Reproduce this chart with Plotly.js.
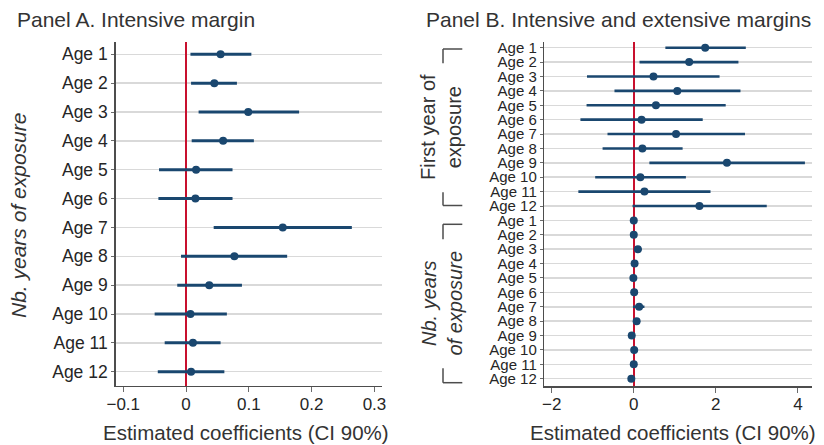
<!DOCTYPE html>
<html>
<head>
<meta charset="utf-8">
<script src="https://cdn.plot.ly/plotly-3.0.1.min.js"></script>
<style>html,body{margin:0;padding:0;background:#fff;}#chart{width:824px;height:445px;}</style>
</head>
<body>
<div id="chart"></div>
<script>
// ---- Data ----
const ageLabels = ["Age 1","Age 2","Age 3","Age 4","Age 5","Age 6","Age 7","Age 8","Age 9","Age 10","Age 11","Age 12"];

// Panel A: intensive margin (coef, lower and upper 90% CI)
const aCoef = [0.055, 0.045, 0.099, 0.059, 0.016, 0.015, 0.154, 0.077, 0.037, 0.007, 0.011, 0.008];
const aLow  = [0.007, 0.008, 0.020, 0.009, -0.043, -0.044, 0.044, -0.008, -0.014, -0.050, -0.034, -0.045];
const aHigh = [0.104, 0.081, 0.180, 0.108, 0.074, 0.074, 0.264, 0.161, 0.089, 0.065, 0.055, 0.061];

// Panel B: first year of exposure block
const bFirstCoef = [1.74, 1.35, 0.48, 1.06, 0.54, 0.19, 1.03, 0.21, 2.27, 0.16, 0.26, 1.60];
const bFirstLow  = [0.77, 0.14, -1.14, -0.47, -1.15, -1.30, -0.64, -0.76, 0.38, -0.94, -1.35, -0.03];
const bFirstHigh = [2.73, 2.55, 2.09, 2.60, 2.24, 1.68, 2.71, 1.19, 4.17, 1.27, 1.87, 3.24];

// Panel B: number of years of exposure block
const bYearsCoef = [0.00, 0.00, 0.10, 0.02, -0.01, 0.01, 0.13, 0.07, -0.05, 0.01, 0.00, -0.06];
const bYearsLow  = [-0.03, -0.03, 0.01, -0.01, -0.04, -0.02, -0.02, 0.04, -0.08, -0.02, -0.03, -0.09];
const bYearsHigh = [0.03, 0.03, 0.19, 0.05, 0.02, 0.04, 0.26, 0.10, -0.02, 0.04, 0.03, -0.03];

const panelATicksX = [-0.1, 0, 0.1, 0.2, 0.3];
const panelBTicksX = [-2, 0, 2, 4];

// ---- Build ----
const W = 824, H = 445;
const px = v => v / W;
const py = v => 1 - v / H;
const navy = "#1a476f";
const txt = "#262626";
const font = "Liberation Sans, Arial, Helvetica, sans-serif";

const aPos = ageLabels.map((_, i) => i + 1);
const bLabels = ageLabels.concat(ageLabels);
const bPos = bLabels.map((_, i) => i + 1);
const bCoef = bFirstCoef.concat(bYearsCoef);
const bLow = bFirstLow.concat(bYearsLow);
const bHigh = bFirstHigh.concat(bYearsHigh);

const traceA = {
  type: "scatter", mode: "markers", xaxis: "x", yaxis: "y",
  x: aCoef, y: aPos,
  marker: {color: navy, size: 8},
  error_x: {type: "data", symmetric: false,
    array: aHigh.map((h, i) => h - aCoef[i]),
    arrayminus: aCoef.map((c, i) => c - aLow[i]),
    color: navy, thickness: 3, width: 0},
  hoverinfo: "x+y", showlegend: false
};
const traceB = {
  type: "scatter", mode: "markers", xaxis: "x2", yaxis: "y2",
  x: bCoef, y: bPos,
  marker: {color: navy, size: 8},
  error_x: {type: "data", symmetric: false,
    array: bHigh.map((h, i) => h - bCoef[i]),
    arrayminus: bCoef.map((c, i) => c - bLow[i]),
    color: navy, thickness: 2.6, width: 0},
  hoverinfo: "x+y", showlegend: false
};

const axisCommon = {
  showline: true, linecolor: "#4d4d4d", linewidth: 1.5,
  ticks: "outside", tickcolor: "#6b6b6b", tickwidth: 1,
  zeroline: false, fixedrange: true
};

const layout = {
  width: W, height: H,
  margin: {l: 0, r: 0, t: 0, b: 0},
  paper_bgcolor: "#fff", plot_bgcolor: "#fff",
  font: {family: font, color: txt},
  showlegend: false,
  xaxis: Object.assign({}, axisCommon, {
    domain: [px(115.7), px(382)], anchor: "y",
    range: [-0.112, 0.312], tickvals: panelATicksX, ticklen: 5,
    showgrid: false, zeroline: true, zerolinecolor: "#c8102e", zerolinewidth: 1.6,
    tickfont: {size: 17, color: txt}, ticklabelstandoff: -3
  }),
  yaxis: Object.assign({}, axisCommon, {
    domain: [py(385.7), py(41.7)], anchor: "x",
    range: [12.485, 0.563], tickvals: aPos, ticktext: ageLabels, ticklen: 3,
    showgrid: true, gridcolor: "#d9d9d9", gridwidth: 1.5,
    tickfont: {size: 17.5, color: txt}, ticklabelstandoff: 0
  }),
  xaxis2: Object.assign({}, axisCommon, {
    domain: [px(544.3), px(812.3)], anchor: "y2",
    range: [-2.18, 4.35], tickvals: panelBTicksX, ticklen: 5,
    showgrid: false, zeroline: true, zerolinecolor: "#c8102e", zerolinewidth: 1.6,
    tickfont: {size: 17, color: txt}, ticklabelstandoff: -3
  }),
  yaxis2: Object.assign({}, axisCommon, {
    domain: [py(386), py(41.7)], anchor: "x2",
    range: [24.507, 0.583], tickvals: bPos, ticktext: bLabels, ticklen: 3,
    showgrid: true, gridcolor: "#d9d9d9", gridwidth: 1.5,
    tickfont: {size: 15, color: txt}, ticklabelstandoff: 0
  }),
  annotations: [
    {text: "Panel A. Intensive margin", xref: "paper", yref: "paper", x: px(15), y: py(19.5),
     xanchor: "left", yanchor: "middle", showarrow: false, font: {size: 21, color: "#333"}},
    {text: "Panel B. Intensive and extensive margins", xref: "paper", yref: "paper", x: px(424), y: py(19.5),
     xanchor: "left", yanchor: "middle", showarrow: false, font: {size: 21, color: "#333"}},
    {text: "Estimated coefficients (CI 90%)", xref: "paper", yref: "paper", x: px(245.5), y: py(432),
     xanchor: "center", yanchor: "middle", showarrow: false, font: {size: 20.5, color: "#333"}},
    {text: "Estimated coefficients (CI 90%)", xref: "paper", yref: "paper", x: px(672.5), y: py(432),
     xanchor: "center", yanchor: "middle", showarrow: false, font: {size: 20.5, color: "#333"}},
    {text: "<i>Nb. years of exposure</i>", xref: "paper", yref: "paper", x: px(19), y: py(216),
     xanchor: "center", yanchor: "middle", textangle: -90, showarrow: false, font: {size: 21, color: "#333"}},
    {text: "First year of<br>exposure", xref: "paper", yref: "paper", x: px(441), y: py(127),
     xanchor: "center", yanchor: "middle", textangle: -90, showarrow: false, font: {size: 20, color: "#333"}},
    {text: "<i>Nb. years<br>of exposure</i>", xref: "paper", yref: "paper", x: px(441), y: py(303.5),
     xanchor: "center", yanchor: "middle", textangle: -90, showarrow: false, font: {size: 20, color: "#333"}}
  ],
  shapes: [
    // bracket for first group
    {type: "line", xref: "paper", yref: "paper", x0: px(443), x1: px(462.3), y0: py(49), y1: py(49), line: {color: "#4d4d4d", width: 1.5}},
    {type: "line", xref: "paper", yref: "paper", x0: px(443), x1: px(443), y0: py(49), y1: py(63.3), line: {color: "#4d4d4d", width: 1.5}},
    {type: "line", xref: "paper", yref: "paper", x0: px(443), x1: px(462.3), y0: py(205.5), y1: py(205.5), line: {color: "#4d4d4d", width: 1.5}},
    {type: "line", xref: "paper", yref: "paper", x0: px(443), x1: px(443), y0: py(192.3), y1: py(205.5), line: {color: "#4d4d4d", width: 1.5}},
    // bracket for second group
    {type: "line", xref: "paper", yref: "paper", x0: px(443), x1: px(462.3), y0: py(224.3), y1: py(224.3), line: {color: "#4d4d4d", width: 1.5}},
    {type: "line", xref: "paper", yref: "paper", x0: px(443), x1: px(443), y0: py(224.3), y1: py(239.3), line: {color: "#4d4d4d", width: 1.5}},
    {type: "line", xref: "paper", yref: "paper", x0: px(443), x1: px(462.3), y0: py(382.7), y1: py(382.7), line: {color: "#4d4d4d", width: 1.5}},
    {type: "line", xref: "paper", yref: "paper", x0: px(443), x1: px(443), y0: py(368.3), y1: py(382.7), line: {color: "#4d4d4d", width: 1.5}}
  ]
};

Plotly.newPlot("chart", [traceA, traceB], layout, {displayModeBar: false, staticPlot: true});
</script>
</body>
</html>
